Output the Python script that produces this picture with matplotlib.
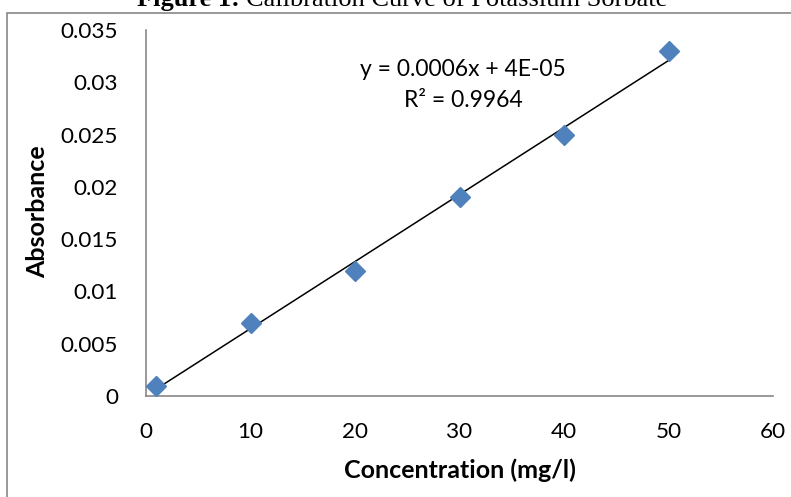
import matplotlib.pyplot as plt
import numpy as np
from matplotlib.patches import Rectangle

# calibration data
concentration = [1, 10, 20, 30, 40, 50]
absorbance = [0.001, 0.007, 0.012, 0.019, 0.025, 0.033]
x_ticks = [0, 10, 20, 30, 40, 50, 60]
y_ticks = [0, 0.005, 0.01, 0.015, 0.02, 0.025, 0.03, 0.035]
y_tick_labels = ["0", "0.005", "0.01", "0.015", "0.02", "0.025", "0.03", "0.035"]
equation_text = "y = 0.0006x + 4E-05\nR² = 0.9964"
title_bold = "Figure 1: "
title_rest = "Calibration Curve of Potassium Sorbate"

plt.rcParams['font.family'] = ['Lato', 'DejaVu Sans']

fig = plt.figure(figsize=(7.91, 4.97), dpi=100)
W, H = 791, 497

# outer chart frame
fig.patches.append(Rectangle((7 / W, -0.1), 1.2, 1 - 13 / H + 0.1,
                             transform=fig.transFigure, fill=False,
                             edgecolor="#888888", linewidth=1.2))

ax = fig.add_axes([146 / W, 1 - 396 / H, (773 - 146) / W, (396 - 30) / H])

x = np.array(concentration, dtype=float)
y = np.array(absorbance)
slope, intercept = np.polyfit(x, y, 1)
ax.plot(x, slope * x + intercept, color="black", linewidth=1.1, zorder=2)
ax.plot(x, y, linestyle="none", marker="D", markersize=10,
        color="#4F81BD", zorder=3)

ax.set_xlim(0, 60)
ax.set_ylim(0, 0.035)
ax.set_xticks(x_ticks)
ax.set_yticks(y_ticks)
ax.set_yticklabels(y_tick_labels)
ax.tick_params(length=0, labelsize=16.2, colors="black")
ax.tick_params(axis="x", pad=19)
ax.tick_params(axis="y", pad=20)
for side in ("top", "right"):
    ax.spines[side].set_visible(False)
for side in ("left", "bottom"):
    ax.spines[side].set_color("#888888")
    ax.spines[side].set_linewidth(1.2)

fig.text(463 / W, 1 - 85 / H, equation_text, ha="center", va="center",
         fontsize=16.5, linespacing=1.6)

fig.text(37.5 / W, 1 - 212 / H, "Absorbance", rotation=90, ha="center",
         va="center", fontsize=18, fontweight="bold")
fig.text(460 / W, 1 - 470 / H, "Concentration (mg/l)", ha="center",
         va="center", fontsize=18, fontweight="bold")

# title sits at the top edge, mostly clipped as in the source image
renderer = fig.canvas.get_renderer()
t1 = fig.text(137 / W, 1 - 6 / H, title_bold, ha="left", va="baseline",
              fontsize=19, fontweight="bold", family="Liberation Serif")
bb = t1.get_window_extent(renderer)
fig.text(bb.x1 / W, 1 - 6 / H, title_rest, ha="left", va="baseline",
         fontsize=19, family="Liberation Serif")

fig.savefig("out.png", dpi=100)
